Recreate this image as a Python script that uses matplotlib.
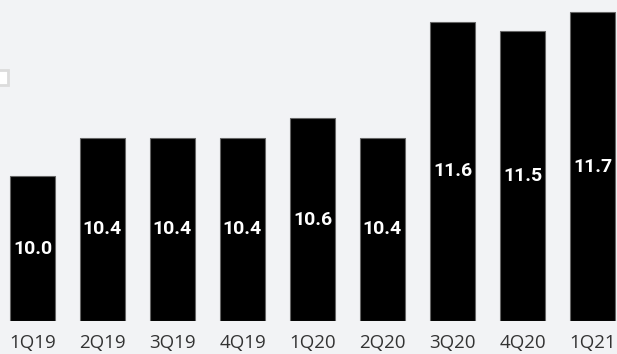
import matplotlib
matplotlib.use("Agg")
import matplotlib.pyplot as plt
from matplotlib.patches import Rectangle

# Quarterly values
quarters = ["1Q19", "2Q19", "3Q19", "4Q19", "1Q20", "2Q20", "3Q20", "4Q20", "1Q21"]
values = [10.0, 10.4, 10.4, 10.4, 10.6, 10.4, 11.6, 11.5, 11.7]

bg = "#f2f3f5"
W, H = 617, 354

fig = plt.figure(figsize=(W / 100, H / 100), dpi=100, facecolor=bg)
ax = fig.add_axes([-2.5 / W, 33 / H, 630 / W, 321 / H], facecolor=bg)

x = list(range(len(quarters)))
base = 8.5
ax.bar(x, [v - base for v in values], bottom=base, width=0.643,
       color="black", edgecolor="#666666", linewidth=0.8)

for xi, v in zip(x, values):
    ax.text(xi, (v + base) / 2, f"{v:.1f}", ha="center", va="center",
            color="white", fontsize=14, fontweight="bold", family="Roboto")

ax.set_xlim(-0.5, 8.5)
ax.set_ylim(base, base + 321 / 96.5)
ax.set_xticks(x)
ax.set_xticklabels(quarters, fontsize=13.5, color="#333333", family="Open Sans")
ax.tick_params(axis="x", length=0, pad=9.5)
ax.set_yticks([])
for s in ax.spines.values():
    s.set_visible(False)

# partially visible legend marker at the left edge
fig.add_artist(Rectangle((-5 / W, (H - 85) / H), 13 / W, 15 / H, transform=fig.transFigure,
                         facecolor="white", edgecolor="#dcdcdc", linewidth=2))

fig.savefig("out.png", dpi=100, facecolor=bg)
